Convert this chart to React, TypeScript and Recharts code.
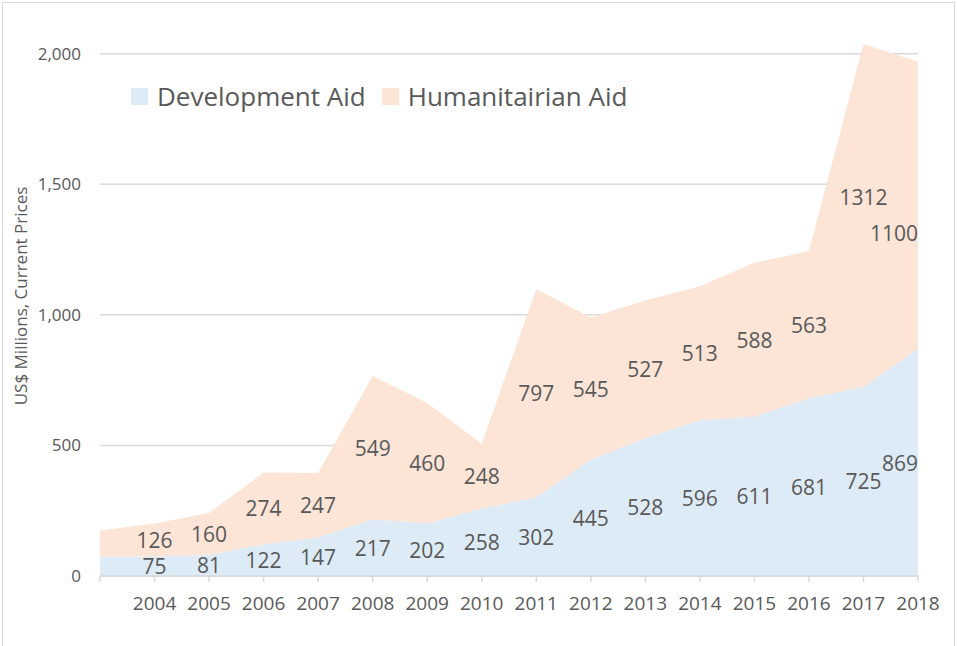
import React from 'react';
import {
  ComposedChart,
  Area,
  Line,
  XAxis,
  YAxis,
  CartesianGrid,
  Legend,
  LabelList,
} from 'recharts';

const years = [
  '', '2004', '2005', '2006', '2007', '2008', '2009', '2010',
  '2011', '2012', '2013', '2014', '2015', '2016', '2017', '2018',
];
const developmentAid = [74, 75, 81, 122, 147, 217, 202, 258, 302, 445, 528, 596, 611, 681, 725, 869];
const humanitarianAid = [100, 126, 160, 274, 247, 549, 460, 248, 797, 545, 527, 513, 588, 563, 1312, 1100];
const yTicks = [0, 500, 1000, 1500, 2000];
const seriesNames = ['Development Aid', 'Humanitairian Aid'];
const seriesColors = ['#DDEBF7', '#FCE4D6'];

const FONT = '"Open Sans", "Noto Sans", sans-serif';
const TEXT = '#595959';
const GRID = '#D9D9D9';

// a couple of labels were moved by hand in the original
const labelNudge: Record<string, number> = { 'hum-2017': -18, 'hum-2018': 28 };

const data = years.map((year, i) => ({
  year,
  dev: developmentAid[i],
  hum: humanitarianAid[i],
  devMid: developmentAid[i] / 2,
  humMid: developmentAid[i] + humanitarianAid[i] / 2,
}));

function makeLabel(key: 'dev' | 'hum') {
  return (props: any) => {
    const index = props.index;
    const x = props.x ?? props.viewBox?.x;
    const y = props.y ?? props.viewBox?.y;
    if (index == null || index === 0 || x == null || y == null) return null;
    const row = data[index];
    const last = index === data.length - 1;
    const nudge = labelNudge[`${key}-${row.year}`] ?? 0;
    return (
      <text
        x={x}
        y={y + nudge}
        textAnchor={last ? 'end' : 'middle'}
        dominantBaseline="central"
        fill={TEXT}
        fontSize={21}
        fontFamily={FONT}
      >
        {row[key]}
      </text>
    );
  };
}

const renderLegend = () => (
  <div
    style={{
      display: 'flex',
      alignItems: 'center',
      fontSize: 26,
      lineHeight: '34px',
      color: TEXT,
      fontFamily: FONT,
      whiteSpace: 'nowrap',
    }}
  >
    {seriesNames.map((name, i) => (
      <div key={name} style={{ display: 'flex', alignItems: 'center', marginRight: 16 }}>
        <span style={{ width: 17, height: 17, background: seriesColors[i], marginRight: 9 }} />
        <span>{name}</span>
      </div>
    ))}
  </div>
);

const renderYLabel = (props: any) => {
  const vb = props.viewBox || { x: 0, y: 44, width: 100, height: 532 };
  const cx = vb.x + 20;
  const cy = vb.y + vb.height / 2 - 14;
  return (
    <text
      x={cx}
      y={cy}
      transform={`rotate(-90, ${cx}, ${cy})`}
      textAnchor="middle"
      dominantBaseline="central"
      fill={TEXT}
      fontSize={17}
      fontFamily={FONT}
    >
      US$ Millions, Current Prices
    </text>
  );
};

export default function App() {
  return (
    <div
      style={{
        position: 'fixed',
        left: 0,
        top: 0,
        width: 957,
        height: 646,
        overflow: 'hidden',
        background: '#fff',
        fontFamily: FONT,
      }}
    >
      <div
        style={{
          position: 'absolute',
          left: 2,
          top: 2,
          width: 953,
          height: 700,
          border: `1px solid ${GRID}`,
          boxSizing: 'border-box',
        }}
      />
      <div style={{ position: 'absolute', left: 0, top: 0 }}>
        <ComposedChart
          width={957}
          height={646}
          data={data}
          margin={{ top: 44, right: 39, bottom: 30, left: 0 }}
        >
          <CartesianGrid
            vertical={false}
            horizontalValues={yTicks}
            stroke={GRID}
            strokeWidth={1.5}
          />
          <XAxis
            dataKey="year"
            scale="point"
            interval={0}
            height={40}
            stroke={GRID}
            strokeWidth={1.5}
            tickSize={6}
            tickMargin={15}
            tick={{ fill: TEXT, fontSize: 19, fontFamily: FONT }}
          />
          <YAxis
            width={100}
            domain={[0, 'dataMax']}
            ticks={yTicks}
            axisLine={false}
            tickLine={false}
            tickMargin={13}
            tickFormatter={(v: number) => v.toLocaleString('en-US')}
            tick={{ fill: TEXT, fontSize: 17, fontFamily: FONT }}
            label={{ content: renderYLabel }}
          />
          <Legend
            layout="horizontal"
            verticalAlign="middle"
            align="center"
            wrapperStyle={{ top: 79, left: 131, width: 'auto' }}
            content={renderLegend}
          />
          <Area
            type="linear"
            dataKey="dev"
            name={seriesNames[0]}
            stackId="aid"
            stroke="none"
            fill={seriesColors[0]}
            fillOpacity={1}
            isAnimationActive={false}
          />
          <Area
            type="linear"
            dataKey="hum"
            name={seriesNames[1]}
            stackId="aid"
            stroke="none"
            fill={seriesColors[1]}
            fillOpacity={1}
            isAnimationActive={false}
          />
          <Line
            dataKey="devMid"
            stroke="none"
            dot={false}
            activeDot={false}
            legendType="none"
            isAnimationActive={false}
          >
            <LabelList dataKey="dev" content={makeLabel('dev')} />
          </Line>
          <Line
            dataKey="humMid"
            stroke="none"
            dot={false}
            activeDot={false}
            legendType="none"
            isAnimationActive={false}
          >
            <LabelList dataKey="hum" content={makeLabel('hum')} />
          </Line>
        </ComposedChart>
      </div>
    </div>
  );
}
